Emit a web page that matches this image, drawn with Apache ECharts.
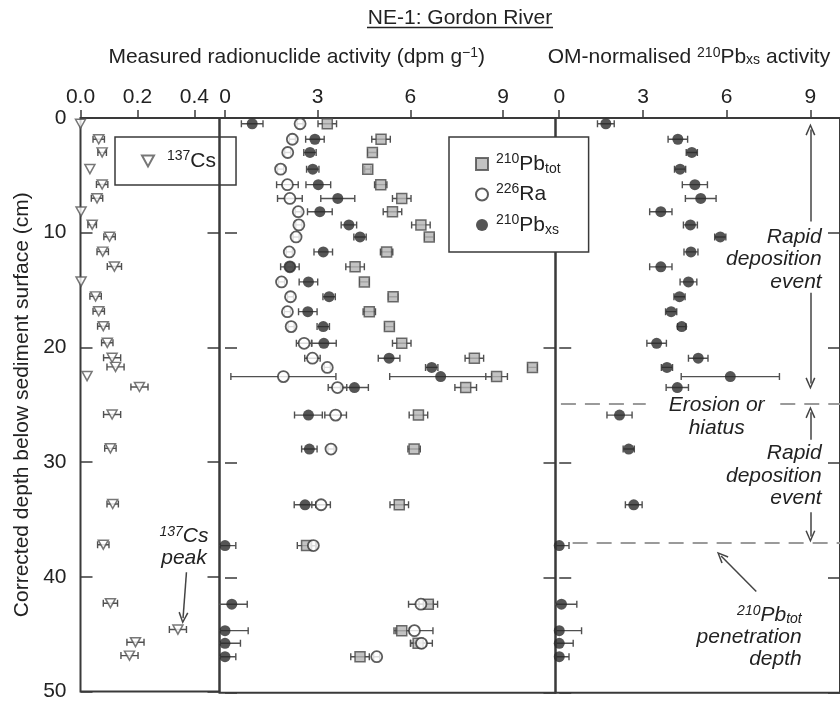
<!DOCTYPE html>
<html>
<head>
<meta charset="utf-8">
<title>NE-1: Gordon River</title>
<script src="https://cdn.jsdelivr.net/npm/echarts@6/dist/echarts.min.js"></script>
<style>
  html, body { margin: 0; padding: 0; background: #fff; }
  #main { width: 840px; height: 702px; }
</style>
</head>
<body>
<div id="main"></div>
<script>
// corrected sample depths (cm), shared by all series
var depths = [0.5, 1.85, 3.0, 4.45, 5.8, 7.0, 8.15, 9.3, 10.35, 11.65, 12.95, 14.26, 15.55, 16.85,
  18.15, 19.6, 20.9, 21.7, 22.5, 23.45, 25.85, 28.8, 33.65, 37.2, 42.3, 44.6, 45.7, 46.87];

// 137Cs (dpm/g)
var cs137 = [0.0, 0.064, 0.076, 0.033, 0.076, 0.058, 0.002, 0.041, 0.102, 0.078, 0.119, 0.002, 0.053, 0.064,
  0.08, 0.094, 0.111, 0.123, 0.023, 0.207, 0.111, 0.105, 0.113, 0.08, 0.105, 0.342, 0.193, 0.172];
var cs137Err = [0, 0.02, 0.015, 0, 0.02, 0.02, 0, 0.015, 0.02, 0.02, 0.025, 0, 0.02, 0.02,
  0.02, 0.02, 0.03, 0.03, 0, 0.03, 0.03, 0.02, 0.02, 0.02, 0.025, 0.03, 0.03, 0.03];

// 210Pb total
var pbTot = [3.31, 5.05, 4.77, 4.62, 5.04, 5.72, 5.42, 6.34, 6.61, 5.23, 4.21, 4.51, 5.44, 4.67,
  5.32, 5.72, 8.07, 9.95, 8.79, 7.79, 6.26, 6.12, 5.64, 2.64, 6.58, 5.72, 6.25, 4.37];
var pbTotErr = [0.3, 0.3, 0.15, 0.1, 0.2, 0.3, 0.3, 0.3, 0.15, 0.2, 0.3, 0.15, 0.15, 0.2,
  0.15, 0.3, 0.3, 0.15, 0.35, 0.35, 0.3, 0.2, 0.3, 0.3, 0.3, 0.25, 0.25, 0.3];

// 226Ra
var ra226 = [2.43, 2.18, 2.03, 1.80, 2.02, 2.10, 2.37, 2.39, 2.30, 2.08, 2.10, 1.83, 2.12, 2.02,
  2.14, 2.56, 2.83, 3.31, 1.89, 3.64, 3.58, 3.43, 3.11, 2.86, 6.34, 6.13, 6.36, 4.91];
var ra226Err = [0.1, 0.1, 0.1, 0.1, 0.35, 0.4, 0.1, 0.1, 0.1, 0.1, 0.1, 0.1, 0.1, 0.1,
  0.1, 0.25, 0.25, 0.1, 1.7, 0.3, 0.35, 0.1, 0.3, 0.1, 0.4, 0.6, 0.35, 0.1];

// 210Pb excess
var pbXs = [0.88, 2.91, 2.75, 2.84, 3.02, 3.65, 3.07, 4.01, 4.37, 3.18, 2.10, 2.70, 3.37, 2.68,
  3.18, 3.20, 5.31, 6.69, 6.98, 4.19, 2.70, 2.73, 2.59, 0.0, 0.22, 0.0, 0.0, 0.0];
var pbXsErr = [0.35, 0.3, 0.2, 0.2, 0.4, 0.55, 0.4, 0.25, 0.2, 0.3, 0.3, 0.3, 0.2, 0.3,
  0.2, 0.4, 0.35, 0.2, 1.65, 0.45, 0.45, 0.25, 0.35, 0.35, 0.5, 0.75, 0.5, 0.35];

// OM-normalised 210Pb excess
var omPbXs = [1.67, 4.25, 4.75, 4.33, 4.86, 5.07, 3.64, 4.70, 5.77, 4.72, 3.64, 4.63, 4.31, 4.01,
  4.39, 3.49, 4.98, 3.86, 6.13, 4.23, 2.16, 2.49, 2.67, 0.0, 0.08, 0.0, 0.0, 0.0];
var omPbXsErr = [0.3, 0.35, 0.2, 0.2, 0.45, 0.55, 0.4, 0.25, 0.2, 0.25, 0.4, 0.3, 0.2, 0.2,
  0.15, 0.35, 0.35, 0.2, 1.76, 0.4, 0.45, 0.2, 0.3, 0.35, 0.55, 0.8, 0.5, 0.35];

var csTicks = [0, 0.2, 0.4];
var actTicks = [0, 3, 6, 9];
var depthTicks = { min: 0, max: 50, interval: 10 };

var font = 'Liberation Sans, Arial, Helvetica, sans-serif';
var ink = '#3a3a3a';

var legendNames = {
  '137Cs': '{sup|137}Cs',
  '210Pbtot': '{sup|210}Pb{sub|tot}',
  '226Ra': '{sup|226}Ra',
  '210Pbxs': '{sup|210}Pb{sub|xs}'
};
var richSS = {
  sup: { fontSize: 14, verticalAlign: 'top', color: '#222' },
  sub: { fontSize: 14, verticalAlign: 'bottom', color: '#222' }
};

function points(vals, errs) {
  return vals.map(function (v, i) { return [v, depths[i], errs ? errs[i] : 0]; });
}

// horizontal error bar with small caps
function errorBar(params, api) {
  var e = api.value(2);
  if (!e) return;
  var v = api.value(0), d = api.value(1);
  var a = api.coord([v - e, d]);
  var b = api.coord([v + e, d]);
  var h = 3.5;
  var st = { stroke: '#505050', lineWidth: 1.4 };
  return {
    type: 'group',
    children: [
      { type: 'line', shape: { x1: a[0], y1: a[1], x2: b[0], y2: b[1] }, style: st },
      { type: 'line', shape: { x1: a[0], y1: a[1] - h, x2: a[0], y2: a[1] + h }, style: st },
      { type: 'line', shape: { x1: b[0], y1: b[1] - h, x2: b[0], y2: b[1] + h }, style: st }
    ]
  };
}

function errSeries(vals, errs, gi) {
  return {
    type: 'custom', name: 'err' + gi, xAxisIndex: gi, yAxisIndex: gi * 2,
    renderItem: errorBar, encode: { x: 0, y: 1 }, clip: true, z: 2, silent: true,
    data: points(vals, errs)
  };
}

function xAxisFor(gi, min, max, ticks, digits) {
  return {
    type: 'value', gridIndex: gi, position: 'top', min: min, max: max,
    axisLine: { show: false }, splitLine: { show: false },
    axisTick: { show: true, inside: false, length: 8, customValues: ticks, lineStyle: { color: ink, width: 1.5 } },
    axisLabel: {
      customValues: ticks, margin: 10, fontSize: 21, color: '#222', fontFamily: font,
      formatter: function (v) { return v.toFixed(digits); }
    }
  };
}

function yAxisFor(gi, pos, labels) {
  var ax = {
    type: 'value', gridIndex: gi, position: pos, inverse: true,
    min: depthTicks.min, max: depthTicks.max, interval: depthTicks.interval,
    axisLine: { show: false }, splitLine: { show: false },
    axisTick: { show: true, inside: true, length: 12, lineStyle: { color: ink, width: 1.5 } },
    axisLabel: { show: labels, margin: 14, fontSize: 21, color: '#222', fontFamily: font }
  };
  if (labels) {
    ax.name = 'Corrected depth below sediment surface (cm)';
    ax.nameLocation = 'middle';
    ax.nameGap = 48;
    ax.nameTextStyle = { fontSize: 21, color: '#222', fontFamily: font };
  }
  return ax;
}

var chart = echarts.init(document.getElementById('main'));

var dashStyle = { color: '#9a9a9a', width: 2.2, type: [15, 9] };
var arrowStyle = { color: '#444', width: 1.5, type: 'solid' };
var chevron = 'path://M5,0 L10,11 L8.6,11.7 L5,3.4 L1.4,11.7 L0,11 Z';

function seg(p, q, style, head) {
  return [
    { coord: p, symbol: 'none', lineStyle: style },
    { coord: q, symbol: head ? chevron : 'none', symbolSize: [10, 12] }
  ];
}

var option = {
  animation: false,
  textStyle: { fontFamily: font },
  grid: [
    { left: 80.5, top: 118, width: 139, height: 574.7, show: true, borderColor: ink, borderWidth: 2, backgroundColor: 'transparent' },
    { left: 219.5, top: 118, width: 336, height: 574.7, show: true, borderColor: ink, borderWidth: 2, backgroundColor: 'transparent' },
    { left: 555.5, top: 118, width: 289.5, height: 574.7, show: true, borderColor: ink, borderWidth: 2, backgroundColor: 'transparent' }
  ],
  xAxis: [
    xAxisFor(0, 0, 0.488, csTicks, 1),
    xAxisFor(1, -0.178, 10.696, actTicks, 0),
    xAxisFor(2, -0.134, 10.06, actTicks, 0)
  ],
  yAxis: [
    yAxisFor(0, 'left', true), yAxisFor(0, 'right', false),
    yAxisFor(1, 'left', false), yAxisFor(1, 'right', false),
    yAxisFor(2, 'left', false), yAxisFor(2, 'right', false)
  ],
  legend: [
    {
      data: ['137Cs'], left: 115, top: 137, orient: 'vertical', selectedMode: false,
      padding: [12, 20, 12, 26], itemWidth: 12, itemHeight: 12,
      borderColor: ink, borderWidth: 1.5, backgroundColor: 'transparent',
      formatter: function (n) { return legendNames[n]; },
      textStyle: { fontSize: 21, color: '#222', lineHeight: 24, padding: [0, 0, 0, 8], rich: richSS }
    },
    {
      data: ['210Pbtot', '226Ra', '210Pbxs'], left: 449, top: 137, orient: 'vertical', selectedMode: false,
      padding: [15, 28, 15, 26], itemGap: 6.5, itemWidth: 12, itemHeight: 12, z: 20,
      borderColor: ink, borderWidth: 1.5, backgroundColor: '#fff',
      formatter: function (n) { return legendNames[n]; },
      textStyle: { fontSize: 21, color: '#222', lineHeight: 24, padding: [0, 0, 0, 3], rich: richSS }
    }
  ],
  series: [
    errSeries(cs137, cs137Err, 0),
    {
      type: 'scatter', name: '137Cs', xAxisIndex: 0, yAxisIndex: 0, z: 3,
      symbol: 'path://M0,0 L10,0 L5,9 Z', symbolSize: [10, 9],
      itemStyle: { color: '#fff', borderColor: '#555', borderWidth: 1.5 },
      data: points(cs137),
      markLine: {
        silent: true, animation: false, label: { show: false }, symbol: 'none',
        data: [seg([0.372, 39.6], [0.36, 43.6], arrowStyle, true)]
      }
    },
    errSeries(pbTot, pbTotErr, 1),
    errSeries(ra226, ra226Err, 1),
    errSeries(pbXs, pbXsErr, 1),
    {
      type: 'scatter', name: '210Pbtot', xAxisIndex: 1, yAxisIndex: 2, z: 3,
      symbol: 'rect', symbolSize: 10,
      itemStyle: { color: '#b4b4b4', borderColor: '#4a4a4a', borderWidth: 1.5 },
      data: points(pbTot)
    },
    {
      type: 'scatter', name: '226Ra', xAxisIndex: 1, yAxisIndex: 2, z: 4,
      symbol: 'circle', symbolSize: 11,
      itemStyle: { color: '#fff', borderColor: '#333', borderWidth: 1.8 },
      data: points(ra226)
    },
    {
      type: 'scatter', name: '210Pbxs', xAxisIndex: 1, yAxisIndex: 2, z: 5,
      symbol: 'circle', symbolSize: 11,
      itemStyle: { color: '#2b2b2b' },
      data: points(pbXs)
    },
    errSeries(omPbXs, omPbXsErr, 2),
    {
      type: 'scatter', name: 'OM-normalised 210Pbxs', xAxisIndex: 2, yAxisIndex: 4, z: 5,
      symbol: 'circle', symbolSize: 11,
      itemStyle: { color: '#2b2b2b' },
      data: points(omPbXs),
      markLine: {
        silent: true, animation: false, label: { show: false }, symbol: 'none',
        data: [
          seg([0.06, 24.9], [3.1, 24.9], dashStyle, false),
          seg([7.92, 24.9], [10.06, 24.9], dashStyle, false),
          seg([0.48, 36.96], [10.06, 36.96], dashStyle, false),
          seg([9, 9.0], [9, 1.0], arrowStyle, true),
          seg([9, 15.2], [9, 23.1], arrowStyle, true),
          seg([9, 28.0], [9, 25.6], arrowStyle, true),
          seg([9, 34.3], [9, 36.4], arrowStyle, true),
          seg([7.06, 41.2], [5.8, 38.1], arrowStyle, true)
        ]
      }
    }
  ],
  graphic: [
    {
      type: 'text', x: 460, y: 18, z: 10,
      style: { text: 'NE-1: Gordon River', fill: '#222', font: '21px ' + font, align: 'center', verticalAlign: 'middle' }
    },
    { type: 'line', z: 10, shape: { x1: 367, y1: 27.5, x2: 553, y2: 27.5 }, style: { stroke: '#222', lineWidth: 1.3 } },
    {
      type: 'text', x: 296.7, y: 57, z: 10,
      style: {
        text: 'Measured radionuclide activity (dpm g{sup|\u22121})', fill: '#222', font: '21px ' + font,
        align: 'center', verticalAlign: 'middle', rich: richSS
      }
    },
    {
      type: 'text', x: 547.7, y: 57, z: 10,
      style: {
        text: 'OM-normalised {sup|210}Pb{sub|xs} activity', fill: '#222', font: '21px ' + font,
        align: 'left', verticalAlign: 'middle', rich: richSS
      }
    },
    {
      type: 'text', x: 821.7, y: 225.5, z: 10,
      style: { text: 'Rapid\ndeposition\nevent', fill: '#222', font: 'italic 21px ' + font, lineHeight: 22.5, align: 'right', verticalAlign: 'top' }
    },
    {
      type: 'text', x: 716.7, y: 393.5, z: 10,
      style: { text: 'Erosion or\nhiatus', fill: '#222', font: 'italic 21px ' + font, lineHeight: 23.3, align: 'center', verticalAlign: 'top' }
    },
    {
      type: 'text', x: 821.7, y: 442, z: 10,
      style: { text: 'Rapid\ndeposition\nevent', fill: '#222', font: 'italic 21px ' + font, lineHeight: 22.5, align: 'right', verticalAlign: 'top' }
    },
    {
      type: 'text', x: 801.7, y: 604, z: 10,
      style: {
        text: '{sup|210}Pb{sub|tot}\npenetration\ndepth', fill: '#222', font: 'italic 21px ' + font, lineHeight: 22,
        align: 'right', verticalAlign: 'top',
        rich: {
          sup: { fontSize: 14, fontStyle: 'italic', verticalAlign: 'top', fill: '#222' },
          sub: { fontSize: 14, fontStyle: 'italic', verticalAlign: 'bottom', fill: '#222' }
        }
      }
    },
    {
      type: 'text', x: 184, y: 525.5, z: 10,
      style: {
        text: '{sup|137}Cs\npeak', fill: '#222', font: 'italic 21px ' + font, lineHeight: 22,
        align: 'center', verticalAlign: 'top',
        rich: { sup: { fontSize: 14, fontStyle: 'italic', verticalAlign: 'top', fill: '#222' } }
      }
    }
  ]
};

chart.setOption(option);
</script>
</body>
</html>
